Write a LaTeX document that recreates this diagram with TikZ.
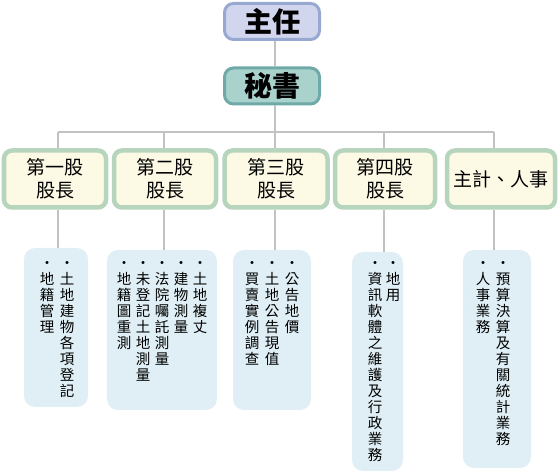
\documentclass[tikz,border=0pt]{standalone}
\usepackage{fontspec}
\newfontfamily\cjk{Noto Sans CJK TC}
\definecolor{zrfill}{HTML}{D2D5EE}
\definecolor{zrline}{HTML}{97A9D1}
\definecolor{msfill}{HTML}{AAD2CD}
\definecolor{msline}{HTML}{6FAAA9}
\definecolor{gufill}{HTML}{FCF9E5}
\definecolor{guline}{HTML}{B7D5BD}
\definecolor{dtfill}{HTML}{DFEFF5}
\definecolor{conn}{HTML}{C2C2C2}
\tikzset{
  topbox/.style={rectangle, rounded corners=9pt, line width=3pt, inner sep=0pt,
    minimum width=95pt, minimum height=36pt, font=\cjk\fontsize{28}{30}\selectfont\bfseries},
  gubox/.style={rectangle, rounded corners=8pt, line width=4.5pt, draw=guline, fill=gufill,
    inner sep=0pt, minimum height=57pt, align=center,
    font=\cjk\fontsize{19}{23}\selectfont},
  dtbox/.style={rectangle, rounded corners=11pt, fill=dtfill, inner sep=0pt},
  vcol/.style={anchor=north, inner sep=0pt, align=center,
    font=\cjk\fontsize{14.5}{16}\selectfont},
  link/.style={draw=conn, line width=2pt}
}
\newcommand{\ph}{\vphantom{土}・}
\begin{document}
\begin{tikzpicture}[x=1pt,y=-1pt]
\useasboundingbox (0,0) rectangle (558,473);
% top nodes
\node[topbox, draw=zrline, fill=zrfill] (zr) at (272,21.5) {主任};
\node[topbox, draw=msline, fill=msfill] (ms) at (272,86) {秘書};
% level 2
\node[gubox, minimum width=102pt] (b1) at (55,179) {第一股\\股長};
\node[gubox, minimum width=102pt] (b2) at (165,179) {第二股\\股長};
\node[gubox, minimum width=103pt] (b3) at (276,179) {第三股\\股長};
\node[gubox, minimum width=100pt] (b4) at (385,179) {第四股\\股長};
\node[gubox, minimum width=108pt] (b5) at (501,179) {主計、人事};
% detail boxes
\node[dtbox, minimum width=64pt, minimum height=159pt] (d1) at (56,327.5) {};
\node[dtbox, minimum width=110pt, minimum height=160pt] (d2) at (162,330) {};
\node[dtbox, minimum width=78pt, minimum height=160pt] (d3) at (272,330) {};
\node[dtbox, minimum width=51pt, minimum height=219pt] (d4) at (377.5,361.5) {};
\node[dtbox, minimum width=68pt, minimum height=218pt] (d5) at (497,359) {};
% connectors
\coordinate (hc) at (275,132);
\coordinate (h1) at (58,132);
\coordinate (h2) at (164,132);
\coordinate (h3) at (275,132);
\coordinate (h4) at (384,132);
\coordinate (h5) at (494,132);
\path[link] (hc |- zr.south) -- (hc |- ms.north);
\path[link] (hc |- ms.south) -- (hc);
\path[link] (h1) -- (h5);
\foreach \i in {1,...,5} {
  \path[link] (h\i) -- (h\i |- b\i.north);
  \path[link] (h\i |- b\i.south) -- (h\i |- d\i.north);
}
% detail columns
\node[vcol] (c11) at (67,256) {\ph\\土\\地\\建\\物\\各\\項\\登\\記};
\node[vcol] (c12) at (47,256) {\ph\\地\\籍\\管\\理};
\node[vcol] (c21) at (200,256) {\ph\\土\\地\\複\\丈};
\node[vcol] (c22) at (181,256) {\ph\\建\\物\\測\\量};
\node[vcol] (c23) at (162,256) {\ph\\法\\院\\囑\\託\\測\\量};
\node[vcol] (c24) at (143,256) {\ph\\未\\登\\記\\土\\地\\測\\量};
\node[vcol] (c25) at (124,256) {\ph\\地\\籍\\圖\\重\\測};
\node[vcol] (c31) at (292,256) {\ph\\公\\告\\地\\價};
\node[vcol] (c32) at (272,256) {\ph\\土\\地\\公\\告\\現\\值};
\node[vcol] (c33) at (252,256) {\ph\\買\\賣\\實\\例\\調\\查};
\node[vcol] (c41) at (393,256) {\ph\\地\\用};
\node[vcol] (c42) at (375,256) {\ph\\資\\訊\\軟\\體\\之\\維\\護\\及\\行\\政\\業\\務};
\node[vcol] (c51) at (503,256) {\ph\\預\\算\\決\\算\\及\\有\\關\\統\\計\\業\\務};
\node[vcol] (c52) at (483,256) {\ph\\人\\事\\業\\務};
\end{tikzpicture}
\end{document}
